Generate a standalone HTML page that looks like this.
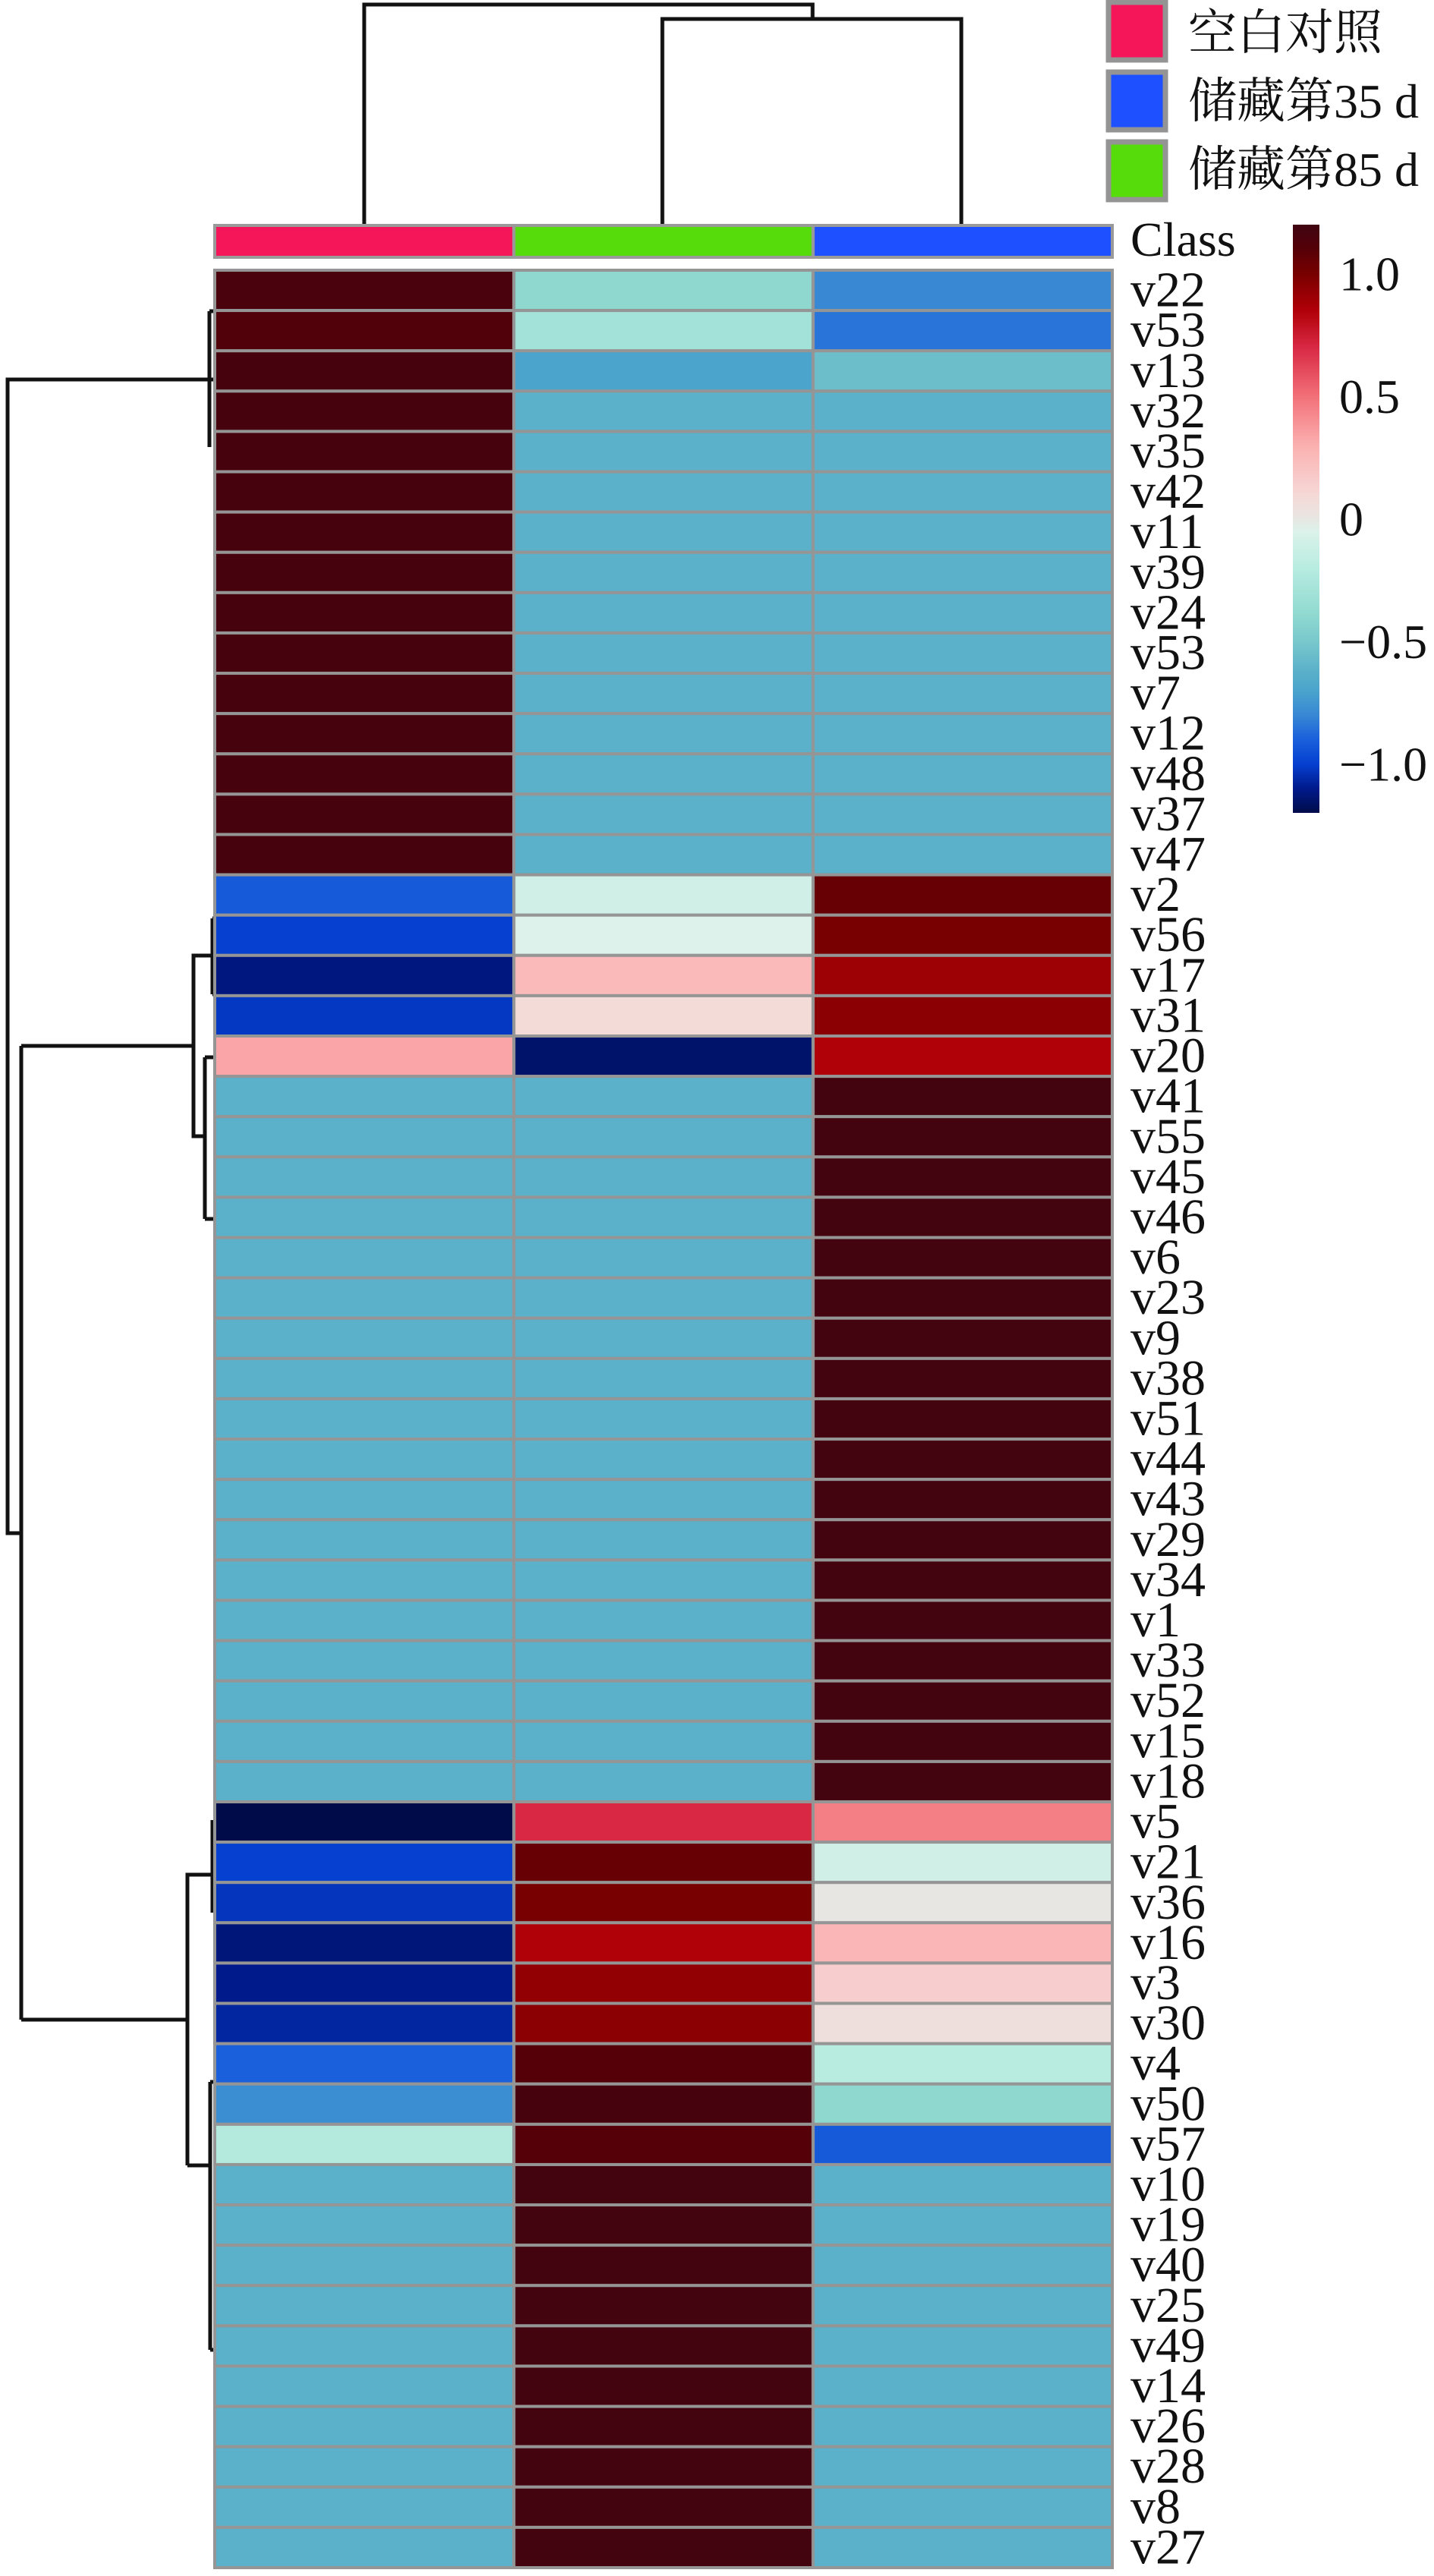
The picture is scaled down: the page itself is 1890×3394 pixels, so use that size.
<!DOCTYPE html>
<html><head><meta charset="utf-8"><style>
html,body{margin:0;padding:0;background:#fff;}
svg{display:block;}
text{font-family:"Liberation Serif","Noto Serif CJK SC",serif;fill:#111;}
</style></head><body>
<svg id="chart" width="1890" height="3394" viewBox="0 0 1890 3394">
<g id="coldendro" fill="none" stroke="#111" stroke-width="5">
<path d="M480 295 V6 H1071 V25"/>
<path d="M873 295 V25 H1267 V295"/>
</g>
<g id="rowdendro" fill="none" stroke="#111" stroke-width="5">
<path d="M276 410 V589"/>
<path d="M283 410 H276 M283 500 H10 V2020 H28"/>
<path d="M28 1378 V2661"/>
<path d="M28 1378 H255 V1259 H280 M280 1210 V1310 M280 1210 H283 M280 1310 H283"/>
<path d="M255 1378 V1497 H270 M270 1393 V1606 M270 1393 H283 M270 1606 H283"/>
<path d="M28 2661 H247 V2470 H280 V2398 M280 2398 V2520 M247 2853 V2661 M247 2853 H277 V2743 M277 3096 V2743 M277 2743 H283 M277 3096 H283"/>
</g>
<g id="classbar"></g>
<g id="cells"></g>
<g id="rowlabels"></g>
<text x="1490" y="337" font-size="64">Class</text>
<g id="legend"></g>
<defs><linearGradient id="cbgrad" x1="0" y1="1" x2="0" y2="0"></linearGradient></defs>
<g id="colorbar"></g>
</svg>
<script>
const rowLabels = ["v22","v53","v13","v32","v35","v42","v11","v39","v24","v53","v7","v12","v48","v37","v47",
"v2","v56","v17","v31","v20","v41","v55","v45","v46","v6","v23","v9","v38","v51","v44","v43","v29","v34","v1","v33","v52","v15","v18",
"v5","v21","v36","v16","v3","v30","v4","v50","v57","v10","v19","v40","v25","v49","v14","v26","v28","v8","v27"];
const colGroups = ["空白对照","储藏第85 d","储藏第35 d"];
const colControl = [1.15,1.12,1.17,1.17,1.17,1.17,1.17,1.17,1.17,1.17,1.17,1.17,1.17,1.17,1.17,
-0.92,-1.0,-1.12,-1.02,0.33,-0.62,-0.62,-0.62,-0.62,-0.62,-0.62,-0.62,-0.62,-0.62,-0.62,-0.62,-0.62,-0.62,-0.62,-0.62,-0.62,-0.62,-0.62,
-1.2,-1.0,-1.03,-1.13,-1.1,-1.07,-0.9,-0.78,-0.22,-0.62,-0.62,-0.62,-0.62,-0.62,-0.62,-0.62,-0.62,-0.62,-0.62];
const col85d = [-0.4,-0.3,-0.7,-0.62,-0.62,-0.62,-0.62,-0.62,-0.62,-0.62,-0.62,-0.62,-0.62,-0.62,-0.62,
-0.1,-0.05,0.25,0.08,-1.15,-0.62,-0.62,-0.62,-0.62,-0.62,-0.62,-0.62,-0.62,-0.62,-0.62,-0.62,-0.62,-0.62,-0.62,-0.62,-0.62,-0.62,-0.62,
0.7,1.05,1.0,0.85,0.93,0.95,1.1,1.17,1.1,1.18,1.18,1.18,1.18,1.18,1.18,1.18,1.18,1.18,1.18];
const col35d = [-0.8,-0.85,-0.55,-0.62,-0.62,-0.62,-0.62,-0.62,-0.62,-0.62,-0.62,-0.62,-0.62,-0.62,-0.62,
1.05,1.0,0.9,0.95,0.85,1.18,1.18,1.18,1.18,1.18,1.18,1.18,1.18,1.18,1.18,1.18,1.18,1.18,1.18,1.18,1.18,1.18,1.18,
0.45,-0.1,0.0,0.27,0.15,0.05,-0.2,-0.4,-0.92,-0.62,-0.62,-0.62,-0.62,-0.62,-0.62,-0.62,-0.62,-0.62,-0.62];
const tickValues = [1.0,0.5,0,-0.5,-1.0];
const tickLabels = ["1.0","0.5","0","\u22120.5","\u22121.0"];

const NS="http://www.w3.org/2000/svg";
function mk(tag,attrs,parent){const e=document.createElementNS(NS,tag);for(const k in attrs)e.setAttribute(k,attrs[k]);parent.appendChild(e);return e;}
const stops=[[-1.2,"#000c4a"],[-1.1,"#001a8c"],[-1.0,"#0540d0"],[-0.9,"#1a60dc"],[-0.8,"#3888d4"],[-0.7,"#4aa4cc"],[-0.62,"#5bb1c9"],[-0.5,"#78c8cc"],[-0.4,"#8ed8d0"],[-0.2,"#b8ece0"],[-0.05,"#dcf2ea"],[0,"#e8e6e2"],[0.1,"#f6d8d6"],[0.3,"#fbb0b0"],[0.5,"#f27078"],[0.7,"#d82843"],[0.85,"#b00008"],[1.0,"#780000"],[1.1,"#550008"],[1.2,"#3f0511"]];
function hex(h){return [1,3,5].map(i=>parseInt(h.substr(i,2),16));}
function cmap(v){v=Math.max(-1.2,Math.min(1.2,v));for(let i=0;i<stops.length-1;i++){const[a,ca]=stops[i],[b,cb]=stops[i+1];if(v<=b){const t=(v-a)/(b-a),A=hex(ca),B=hex(cb);return "rgb("+A.map((x,j)=>Math.round(x+(B[j]-x)*t)).join(",")+")";}}return stops[stops.length-1][1];}
const X0=283,X1=1466,Y0=356,Y1=3383;
const colX=i=>X0+(X1-X0)/3*i;
const colW=(X1-X0)/3;
const rowH=(Y1-Y0)/rowLabels.length;
const rowY=i=>Y0+rowH*i;
const CBT=296,CBB=1071,CBMIN=-1.2,CBMAX=1.2;
const cbY=v=>CBB-(v-CBMIN)/(CBMAX-CBMIN)*(CBB-CBT);

const cols=[colControl,col85d,col35d];
const cellsG=document.getElementById('cells');
cols.forEach((arr,c)=>{arr.forEach((v,r)=>{
 const el=mk('rect',{x:colX(c),y:rowY(r),width:colW,height:rowH,fill:cmap(v),stroke:"#959595","stroke-width":4},cellsG);
 
 
});});
const labG=document.getElementById('rowlabels');
rowLabels.forEach((l,r)=>{
 const t=mk('text',{x:1490,y:rowY(r)+rowH/2+21,"font-size":66},labG);t.textContent=l;
 
 
});
const classColors=["#f5165a","#56dc0a","#1e50ff"];
const cbG=document.getElementById('classbar');
classColors.forEach((c,i)=>{
 const el=mk('rect',{x:colX(i),y:297,width:colW,height:42,fill:c,stroke:"#9a9a9a","stroke-width":4},cbG);
 
 
});
const legItems=[["空白对照","#f5165a",0,65],["储藏第35 d","#1e50ff",92,155],["储藏第85 d","#56dc0a",184,245]];
const legG=document.getElementById('legend');
legItems.forEach(([t,c,y,b],i)=>{
 const r=mk('rect',{x:1461,y:y+3,width:75,height:76,fill:c,stroke:"#949494","stroke-width":7},legG);
 
 
 const tx=mk('text',{x:1566,y:b,"font-size":64},legG);tx.textContent=t;
 
 
});
const grad=document.getElementById('cbgrad');
stops.forEach(([v,c])=>{mk('stop',{offset:((v-CBMIN)/(CBMAX-CBMIN)),"stop-color":c},grad);});
const cbar=document.getElementById('colorbar');
const bar=mk('rect',{x:1704,y:CBT,width:35,height:CBB-CBT,fill:"url(#cbgrad)"},cbar);


tickValues.forEach((v,i)=>{
 const t=mk('text',{x:1765,y:cbY(v)+22,"font-size":64},cbar);t.textContent=tickLabels[i];
 
 
});
</script>
</body></html>
